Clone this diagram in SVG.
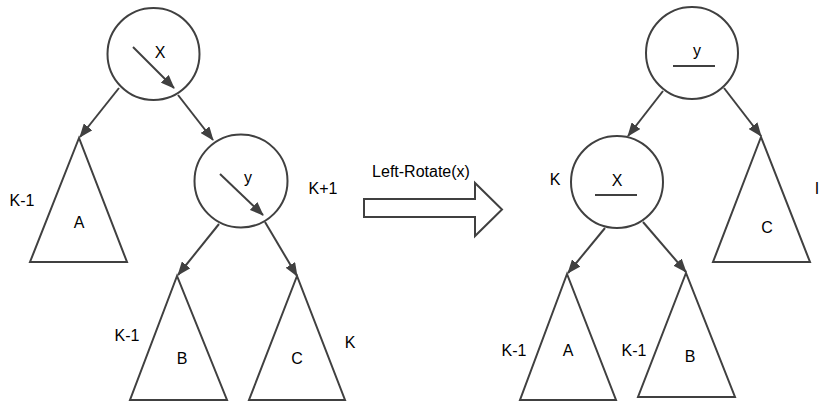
<svg xmlns="http://www.w3.org/2000/svg" width="819" height="403" viewBox="0 0 819 403">
<style>
.s{fill:#fff;stroke:#404040;stroke-width:2}
.l{fill:none;stroke:#404040;stroke-width:2}
.e{fill:none;stroke:#404040;stroke-width:2;marker-end:url(#ah)}
text{font-family:"Liberation Sans",Arial,sans-serif;font-size:16px;fill:#000;text-anchor:middle}
</style>
<defs>
<marker id="ah" viewBox="0 0 14 11" refX="13" refY="5.5" markerWidth="14" markerHeight="11" markerUnits="userSpaceOnUse" orient="auto">
<path d="M0,0 L14,5.5 L0,11 Z" fill="#404040"/>
</marker>
</defs>
<rect width="819" height="403" fill="#fff"/>
<g id="connectors">
<line class="e" x1="119" y1="88" x2="80" y2="137"/>
<line class="e" x1="178" y1="95" x2="213" y2="140"/>
<line class="e" x1="219" y1="224" x2="178" y2="275"/>
<line class="e" x1="265" y1="222" x2="297" y2="276"/>
<line class="e" x1="663" y1="91" x2="628" y2="136"/>
<line class="e" x1="724" y1="88" x2="761" y2="136"/>
<line class="e" x1="605" y1="228" x2="568" y2="273"/>
<line class="e" x1="643" y1="222" x2="686" y2="272"/>
</g>
<g id="left-x">
<circle class="s" cx="153.5" cy="54" r="46"/>
<line class="e" x1="133" y1="47" x2="174" y2="88"/>
<text x="160" y="58">X</text>
</g>
<g id="left-y">
<circle class="s" cx="241" cy="181" r="46.5"/>
<line class="e" x1="220" y1="174" x2="263" y2="215"/>
<text x="248" y="183">y</text>
<text x="323" y="194">K+1</text>
</g>
<g id="left-a">
<polygon class="s" points="79,138 30,262 127,262"/>
<text x="79" y="228">A</text>
<text x="22" y="206">K-1</text>
</g>
<g id="left-b">
<polygon class="s" points="177,276 130,400 227,400"/>
<text x="182" y="364">B</text>
<text x="127" y="341">K-1</text>
</g>
<g id="left-c">
<polygon class="s" points="297,276 249,400 345,400"/>
<text x="297" y="364">C</text>
<text x="350" y="348">K</text>
</g>
<g id="rotate-arrow">
<polygon class="s" points="364,199 475,199 475,183 502,209.5 475,236 475,217 364,217"/>
<text x="421" y="177" style="font-size:16px">Left-Rotate(x)</text>
</g>
<g id="right-y">
<circle class="s" cx="692" cy="53" r="46"/>
<text x="697" y="56">y</text>
<line class="l" x1="673" y1="66" x2="715" y2="66"/>
</g>
<g id="right-x">
<circle class="s" cx="617" cy="182" r="46"/>
<text x="617" y="186">X</text>
<line class="l" x1="595" y1="195" x2="637" y2="195"/>
<text x="555" y="185">K</text>
</g>
<g id="right-c">
<polygon class="s" points="761,137 713,262 810,262"/>
<text x="767" y="233">C</text>
<text x="817" y="194">I</text>
</g>
<g id="right-a">
<polygon class="s" points="567,274 520,400 616,400"/>
<text x="568" y="356">A</text>
<text x="514" y="356">K-1</text>
</g>
<g id="right-b">
<polygon class="s" points="686,273 638,397 735,397"/>
<text x="690" y="362">B</text>
<text x="634" y="356">K-1</text>
</g>
</svg>
